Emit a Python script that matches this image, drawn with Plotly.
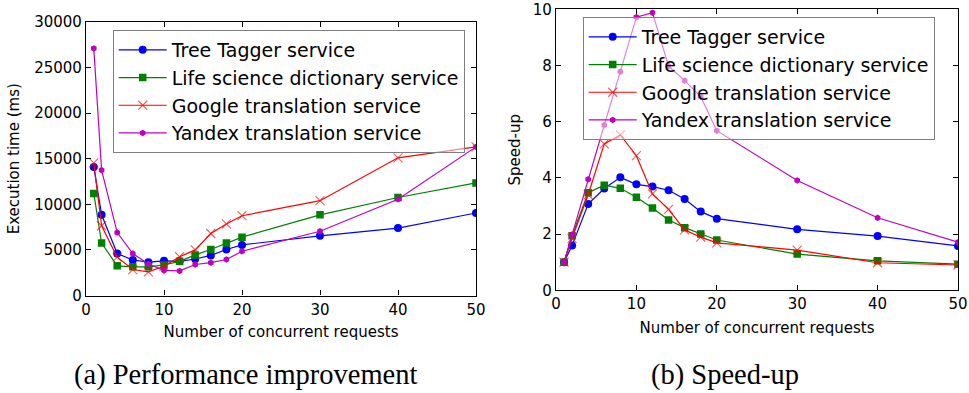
import plotly.graph_objects as go

# Number of concurrent requests sent to each service
requests = [1, 2, 4, 6, 8, 10, 12, 14, 16, 18, 20, 30, 40, 50]

service_names = [
    "Tree Tagger service",
    "Life science dictionary service",
    "Google translation service",
    "Yandex translation service",
]

# Execution time (ms)
exec_tree = [14100, 8850, 4600, 3900, 3650, 3800, 3750, 4000, 4400, 5050, 5550, 6550, 7400, 9050]
exec_life = [11200, 5750, 3250, 3150, 3150, 3350, 3750, 4450, 5050, 5750, 6400, 8850, 10750, 12350]
exec_google = [14550, 7650, 4200, 2850, 2600, 3200, 4250, 5000, 6800, 7850, 8750, 10400, 15100, 16300]
exec_yandex = [27100, 13750, 6900, 4600, 3450, 2750, 2700, 3400, 3600, 3950, 4850, 7050, 10550, 16300]

# Speed-up relative to a single request
speed_tree = [1.0, 1.59, 3.07, 3.62, 4.02, 3.77, 3.69, 3.56, 3.25, 2.80, 2.55, 2.17, 1.93, 1.58]
speed_life = [1.0, 1.94, 3.47, 3.74, 3.63, 3.31, 2.93, 2.50, 2.23, 2.00, 1.79, 1.29, 1.05, 0.93]
speed_google = [1.0, 1.85, 3.40, 5.21, 5.53, 4.79, 3.43, 2.88, 2.15, 1.89, 1.69, 1.43, 0.98, 0.90]
speed_yandex = [1.0, 1.99, 3.95, 5.88, 7.78, 9.72, 9.88, 7.98, 7.46, 6.89, 5.68, 3.91, 2.58, 1.71]

x_ticks = [0, 10, 20, 30, 40, 50]
exec_ticks = [0, 5000, 10000, 15000, 20000, 25000, 30000]
speed_ticks = [0, 2, 4, 6, 8, 10]

styles = [
    dict(color="#0000ff", edge=None, symbol="circle", size=8),
    dict(color="#008000", edge=None, symbol="square", size=7.5),
    dict(color="#ff0000", edge="rgba(255,0,0,0.65)", symbol="x-thin", size=9),
    dict(color="#bf00bf", edge=None, symbol="hexagon", size=6.5),
]

SANS = "DejaVu Sans"
SERIF = "Liberation Serif"

fig = go.Figure()

panels = [
    ("a", "x", "y", "legend", [exec_tree, exec_life, exec_google, exec_yandex]),
    ("b", "x2", "y2", "legend2", [speed_tree, speed_life, speed_google, speed_yandex]),
]

for tag, xa, ya, leg, series in panels:
    for i, (name, vals, st) in enumerate(zip(service_names, series, styles)):
        marker = dict(color=st["color"], symbol=st["symbol"], size=st["size"])
        if st["edge"]:
            marker["line"] = dict(color=st["edge"], width=1.1)
        else:
            marker["line"] = dict(width=0)
        fig.add_trace(go.Scatter(
            x=requests, y=vals, name=name, mode="lines+markers",
            line=dict(color=st["color"], width=1.2),
            marker=marker, xaxis=xa, yaxis=ya,
            legend=leg, legendgroup=f"{tag}{i}",
        ))

axis_common = dict(
    showline=True, linecolor="black", linewidth=1.2, mirror="ticks",
    ticks="inside", ticklen=5, tickwidth=1, tickcolor="black",
    showgrid=False, zeroline=False, automargin=False, tickformat="d",
    tickfont=dict(family=SANS, size=15, color="black"),
)

title_font = dict(family=SANS, size=15, color="black")

legend_common = dict(
    bgcolor="rgba(255,255,255,0.5)", bordercolor="#7f7f7f", borderwidth=1,
    font=dict(family=SANS, size=19, color="black"),
    xanchor="left", yanchor="top", tracegroupgap=0, itemwidth=48,
)

fig.update_layout(
    width=969, height=393,
    margin=dict(l=0, r=0, t=0, b=0),
    paper_bgcolor="white", plot_bgcolor="white",
    showlegend=True,
    xaxis=dict(domain=[86 / 969, 476 / 969], range=[0, 50], tickvals=x_ticks, anchor="y",
               title=dict(text="Number of concurrent requests", font=title_font, standoff=8),
               **axis_common),
    yaxis=dict(domain=[1 - 295.5 / 393, 1 - 22 / 393], range=[0, 30000], tickvals=exec_ticks, anchor="x",
               title=dict(text="Execution time (ms)", font=title_font, standoff=10),
               **axis_common),
    xaxis2=dict(domain=[556 / 969, 958 / 969], range=[0, 50], tickvals=x_ticks, anchor="y2",
                title=dict(text="Number of concurrent requests", font=title_font, standoff=10),
                **axis_common),
    yaxis2=dict(domain=[1 - 290.3 / 393, 1 - 9.3 / 393], range=[0, 10], tickvals=speed_ticks, anchor="x2",
                title=dict(text="Speed-up", font=title_font, standoff=8),
                **axis_common),
    legend=dict(x=112.7 / 969, y=1 - 30 / 393, **legend_common),
    legend2=dict(x=582.7 / 969, y=1 - 17 / 393, **legend_common),
    annotations=[
        dict(text="(a) Performance improvement", x=245.5 / 969, y=1 - 375 / 393,
             xref="paper", yref="paper", showarrow=False, xanchor="center", yanchor="middle",
             font=dict(family=SERIF, size=28.5, color="black")),
        dict(text="(b) Speed-up", x=725 / 969, y=1 - 375 / 393,
             xref="paper", yref="paper", showarrow=False, xanchor="center", yanchor="middle",
             font=dict(family=SERIF, size=28.5, color="black")),
    ],
)

fig.write_html("out.html")
